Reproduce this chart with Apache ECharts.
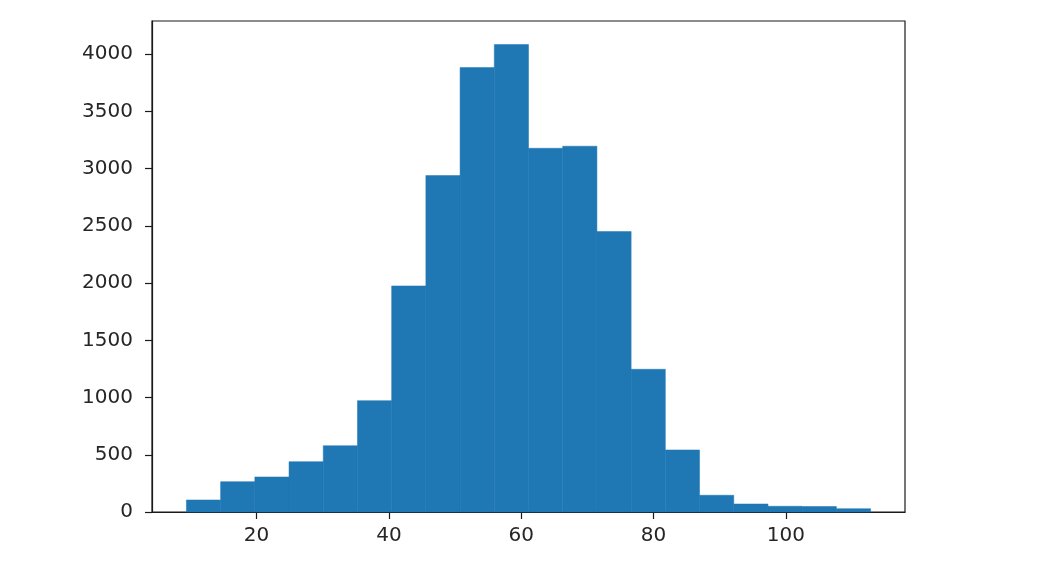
<!DOCTYPE html>
<html>
<head>
<meta charset="utf-8">
<script src="https://cdn.jsdelivr.net/npm/echarts@6/dist/echarts.min.js"></script>
<style>
  html, body { margin: 0; padding: 0; background: #fff; }
  #chart { width: 1052px; height: 571px; }
</style>
</head>
<body>
<div id="chart"></div>
<script>
// histogram bin edges (20 bins) and counts
const binEdges = [9.4, 14.57, 19.74, 24.91, 30.08, 35.25, 40.42, 45.59, 50.76, 55.93, 61.1,
  66.27, 71.44, 76.61, 81.78, 86.95, 92.12, 97.29, 102.46, 107.63, 112.8]
const binCounts = [105, 265, 306, 440, 579, 973, 1975, 2939, 3883, 4084, 3178,
  3196, 2450, 1247, 542, 146, 70, 50, 48, 29]
const xTicks = [20, 40, 60, 80, 100]
const yTicks = [0, 500, 1000, 1500, 2000, 2500, 3000, 3500, 4000]

const barColor = '#1f77b4'
const inkColor = '#262626'

const histData = binCounts.map((count, i) => [binEdges[i], binEdges[i + 1], count])

const chart = echarts.init(document.getElementById('chart'))

const axisText = {
  color: inkColor,
  fontSize: 20,
  fontFamily: 'DejaVu Sans',
  formatter: (value) => String(value)
}

chart.setOption({
  animation: false,
  grid: {
    left: 152, right: 147, top: 21, bottom: 59,
    show: true, borderColor: '#1a1a1a', borderWidth: 1.2, backgroundColor: 'transparent'
  },
  xAxis: {
    type: 'value',
    min: 4.2,
    max: 118,
    splitLine: { show: false },
    axisLine: { show: true, lineStyle: { color: '#1a1a1a', width: 1.2 } },
    axisTick: { show: true, length: 7, customValues: xTicks, lineStyle: { color: '#1a1a1a', width: 1.2 } },
    axisLabel: { ...axisText, margin: 14, customValues: xTicks }
  },
  yAxis: {
    type: 'value',
    min: 0,
    max: 4290,
    splitLine: { show: false },
    axisLine: { show: true, lineStyle: { color: '#1a1a1a', width: 1.2 } },
    axisTick: { show: true, length: 7, customValues: yTicks, lineStyle: { color: '#1a1a1a', width: 1.2 } },
    axisLabel: { ...axisText, margin: 19, customValues: yTicks }
  },
  series: [
    {
      type: 'custom',
      data: histData,
      encode: { x: [0, 1], y: 2 },
      renderItem: (params, api) => {
        const leftTop = api.coord([api.value(0), api.value(2)])
        const rightBottom = api.coord([api.value(1), 0])
        return {
          type: 'rect',
          shape: {
            x: leftTop[0],
            y: leftTop[1],
            width: rightBottom[0] - leftTop[0],
            height: rightBottom[1] - leftTop[1]
          },
          style: { fill: barColor, stroke: barColor, lineWidth: 0.5 }
        }
      }
    }
  ]
})
</script>
</body>
</html>
